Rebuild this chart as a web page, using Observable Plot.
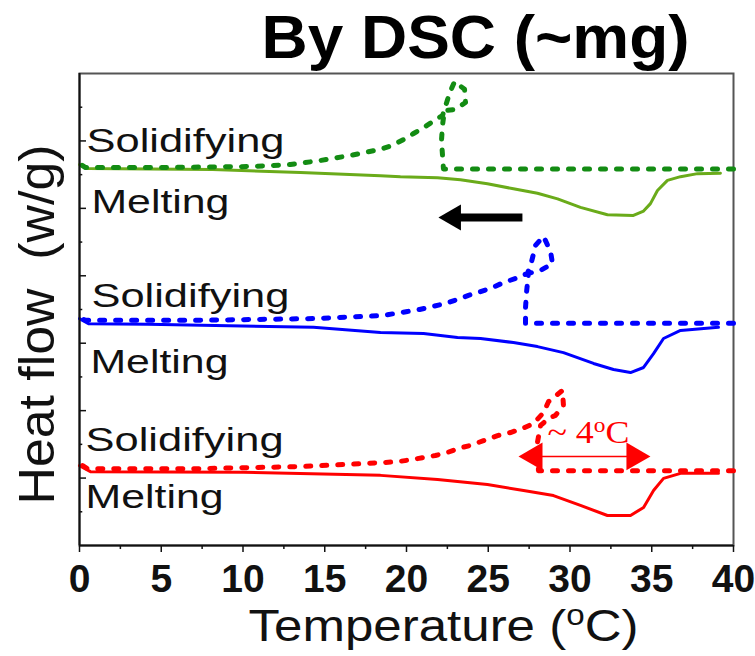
<!DOCTYPE html>
<html><head><meta charset="utf-8">
<script src="https://cdn.jsdelivr.net/npm/d3@7"></script>
<script src="https://cdn.jsdelivr.net/npm/@observablehq/plot@0.6"></script>
<style>
body{margin:0;background:#fff;}
svg text{white-space:pre;}
</style></head><body><div id="chart"></div>
<script>
// Melting (heating) traces — solid lines
const greenHeatT = [0, 0.55, 8.13, 13.52, 18.41, 19.63, 21.90, 23.30, 24.95, 26.54, 28.01, 29.24, 30.64, 32.29, 33.88, 34.50, 34.92, 35.35, 35.96, 36.76, 37.80, 39.2];
const greenHeatY = [11.30, 11.18, 11.15, 11.06, 10.97, 10.94, 10.91, 10.85, 10.73, 10.58, 10.45, 10.28, 10.03, 9.81, 9.79, 9.92, 10.14, 10.53, 10.83, 10.94, 11.03, 11.04];
const blueHeatT = [0, 0.55, 4.16, 14.31, 18.41, 21.04, 23.12, 24.53, 26.54, 28.01, 29.60, 31.44, 32.66, 33.70, 34.50, 35.11, 35.72, 36.76, 39.08];
const blueHeatY = [6.73, 6.58, 6.56, 6.47, 6.32, 6.29, 6.17, 6.14, 6.02, 5.90, 5.72, 5.40, 5.22, 5.13, 5.28, 5.69, 6.14, 6.38, 6.47];
const redHeatT = [0, 0.67, 10.03, 18.41, 21.90, 24.95, 27.16, 28.99, 30.64, 32.29, 33.70, 34.50, 35.11, 35.72, 36.76, 39.08];
const redHeatY = [2.37, 2.19, 2.17, 2.08, 1.96, 1.81, 1.63, 1.48, 1.19, 0.89, 0.89, 1.13, 1.63, 1.99, 2.14, 2.14];

// Solidifying (cooling) traces — dotted lines
const greenCoolT = [40, 22.26, 22.14, 22.20, 22.32, 22.94, 23.61, 23.55, 22.94, 22.63, 22.20, 21.90, 21.16, 20.43, 19.82, 19.14, 18.41, 16.57, 14.74, 12.90, 10.46, 4.34, 0.37, 0];
const greenCoolY = [11.17, 11.17, 12.01, 12.46, 12.90, 12.93, 13.14, 13.53, 13.76, 13.41, 12.75, 12.67, 12.43, 12.22, 12.04, 11.87, 11.75, 11.57, 11.42, 11.30, 11.24, 11.21, 11.21, 11.33];
const blueCoolT = [40, 27.28, 27.28, 27.34, 27.46, 28.20, 28.93, 28.81, 28.38, 27.89, 27.65, 27.40, 26.67, 25.93, 25.26, 24.53, 23.79, 23.12, 22.39, 21.59, 20.80, 20.06, 19.27, 18.53, 14.31, 7.40, 0.37, 0];
const blueCoolY = [6.59, 6.59, 7.06, 7.50, 8.07, 8.16, 8.36, 8.72, 9.17, 8.90, 8.42, 8.07, 7.92, 7.80, 7.65, 7.53, 7.42, 7.30, 7.18, 7.09, 7.00, 6.94, 6.88, 6.82, 6.73, 6.68, 6.68, 6.76];
const redCoolT = [40, 28.07, 28.01, 28.20, 28.69, 29.11, 29.60, 29.54, 28.69, 28.38, 27.77, 27.09, 26.36, 25.57, 24.71, 23.91, 23.18, 22.51, 21.77, 21.04, 20.37, 19.51, 18.59, 13.52, 7.40, 0.49, 0];
const redCoolY = [2.22, 2.22, 3.06, 3.56, 3.77, 3.86, 4.15, 4.60, 4.27, 3.94, 3.62, 3.47, 3.35, 3.26, 3.11, 2.97, 2.88, 2.76, 2.67, 2.61, 2.55, 2.49, 2.46, 2.34, 2.28, 2.28, 2.43];

// Text labels
const labelText = ["Solidifying", "Melting", "Solidifying", "Melting", "Solidifying", "Melting"];
const labelT = [0.43, 0.73, 0.73, 0.67, 0.37, 0.37];
const labelY = [11.66, 9.85, 7.06, 5.13, 2.79, 1.10];

// Ticks
const xMajorTicks = [0, 5, 10, 15, 20, 25, 30, 35, 40];
const xMinorTicks = [2.5, 7.5, 12.5, 17.5, 22.5, 27.5, 32.5, 37.5];
const yMajorTicks = [2, 4, 6, 8, 10, 12];
const yMinorTicks = [1, 3, 5, 7, 9, 11, 13];

// Annotations
const coolArrowT = [22.87, 27.09];   // head, tail
const coolArrowY = [9.73];
const spanT = [27.83, 33.94];        // heads of "~4 °C" span arrow
const spanLineT = [26.85, 34.92];
const spanY = [2.64];
const spanLabel = ["~ 4oC"];
const spanLabelT = [28.62];
const spanLabelY = [3.03];

const pts = (T, Y) => T.map((t, i) => ({T: t, y: Y[i]}));
const series = [
  {data: pts(greenHeatT, greenHeatY), color: "#6aab1a", dotted: false},
  {data: pts(greenCoolT, greenCoolY), color: "#138c13", dotted: true},
  {data: pts(blueHeatT, blueHeatY), color: "#0000ff", dotted: false},
  {data: pts(blueCoolT, blueCoolY), color: "#0000ff", dotted: true},
  {data: pts(redHeatT, redHeatY), color: "#ff0000", dotted: false},
  {data: pts(redCoolT, redCoolY), color: "#ff0000", dotted: true}
];
const labels = labelText.map((s, i) => ({s, T: labelT[i], y: labelY[i]}));

const font = "'Liberation Sans', Arial, Helvetica, sans-serif";
const plot = Plot.plot({
  width: 755, height: 656,
  marginLeft: 79, marginRight: 22, marginTop: 73, marginBottom: 111,
  x: {domain: [0, 40]},
  y: {domain: [0, 14], axis: null},
  style: {fontFamily: font, background: "#fff", color: "#111"},
  marks: [
    Plot.frame({stroke: "#555", strokeWidth: 2}),
    ...series.map(s => Plot.line(s.data, {
      x: "T", y: "y", stroke: s.color,
      strokeWidth: s.dotted ? 5 : 3,
      strokeDasharray: s.dotted ? "5,11" : null,
      strokeLinejoin: "round"
    })),
    Plot.ruleX([0], {stroke: "#111", strokeWidth: 2}),
    Plot.ruleY([0], {stroke: "#111", strokeWidth: 2}),
    Plot.ruleY(yMajorTicks, {y: d => d, x1: 0, x2: 0.43, stroke: "#111", strokeWidth: 1.5}),
    Plot.ruleY(yMinorTicks, {y: d => d, x1: 0, x2: 0.2, stroke: "#111", strokeWidth: 1.5}),
    Plot.ruleX(xMinorTicks, {x: d => d, y1: 0, y2: -0.12, stroke: "#111", strokeWidth: 1.5}),
    Plot.axisX(xMajorTicks, {tickSize: 7, tickPadding: 12, fontSize: 39, fontWeight: "bold", label: null, stroke: "#111", strokeWidth: 1.5, fill: "#111"}),
    Plot.text(labels, {x: "T", y: "y", text: "s", textAnchor: "start", lineAnchor: "bottom", fontSize: 33, fill: "#111"}),
    // black cooling-direction arrow
    Plot.link(coolArrowY, {x1: () => coolArrowT[0] + 0.1, x2: () => coolArrowT[1], y1: d => d, y2: d => d, stroke: "#000", strokeWidth: 8}),
    Plot.dot(coolArrowY, {x: () => coolArrowT[0], y: d => d, symbol: "triangle", r: 9.65, rotate: -90, fill: "#000", stroke: "none"}),
    // red span arrow
    Plot.link(spanY, {x1: () => spanLineT[0] + 0.5, x2: () => spanLineT[1] - 0.5, y1: d => d, y2: d => d, stroke: "#ff0000", strokeWidth: 1.5}),
    Plot.dot(spanT.map((t, i) => ({t, r: i === 0 ? -90 : 90})), {x: "t", y: () => spanY[0], symbol: "triangle", r: 10.3, rotate: "r", fill: "#ff0000", stroke: "none"}),
    Plot.text(spanLabel, {x: () => spanLabelT[0], y: () => spanLabelY[0], text: d => d, textAnchor: "start", lineAnchor: "bottom", fontSize: 32, fill: "#ff0000", fontFamily: "'Liberation Serif', 'Times New Roman', serif"}),
    // axis titles and chart title
    Plot.text(["Temperature (oC)"], {frameAnchor: "bottom", dx: 37, dy: 95, lineAnchor: "bottom", textAnchor: "middle", fontSize: 45, fill: "#111"}),
    Plot.text(["Heat flow  (w/g)"], {frameAnchor: "left", dx: -26, dy: 15, rotate: -90, lineAnchor: "bottom", textAnchor: "middle", fontSize: 50, fill: "#111"}),
    Plot.text(["By DSC (~mg)"], {frameAnchor: "top-left", dx: 182, dy: -16, lineAnchor: "bottom", textAnchor: "start", fontSize: 62, fontWeight: "bold", fill: "#000"})
  ]
});

// Text stretching and superscripts
plot.querySelectorAll("text").forEach(t => {
  const s = t.textContent;
  const stretch = (len) => { t.setAttribute("textLength", len); t.setAttribute("lengthAdjust", "spacingAndGlyphs"); };
  const sup = (before, after) => {
    t.textContent = "";
    t.appendChild(document.createTextNode(before));
    const ts = document.createElementNS("http://www.w3.org/2000/svg", "tspan");
    ts.setAttribute("baseline-shift", "super");
    ts.setAttribute("font-size", "65%");
    ts.textContent = "o";
    t.appendChild(ts);
    t.appendChild(document.createTextNode(after));
  };
  if (s === "Solidifying") stretch(198);
  else if (s === "Melting") stretch(138);
  else if (s === "Temperature (oC)") { sup("Temperature (", "C)"); stretch(390); }
  else if (s === "~ 4oC") { sup("~ 4", "C"); stretch(82); }
  else if (s === "Heat flow  (w/g)") stretch(360);
  else if (s === "By DSC (~mg)") stretch(428);
});
document.getElementById("chart").appendChild(plot);
</script></body></html>
